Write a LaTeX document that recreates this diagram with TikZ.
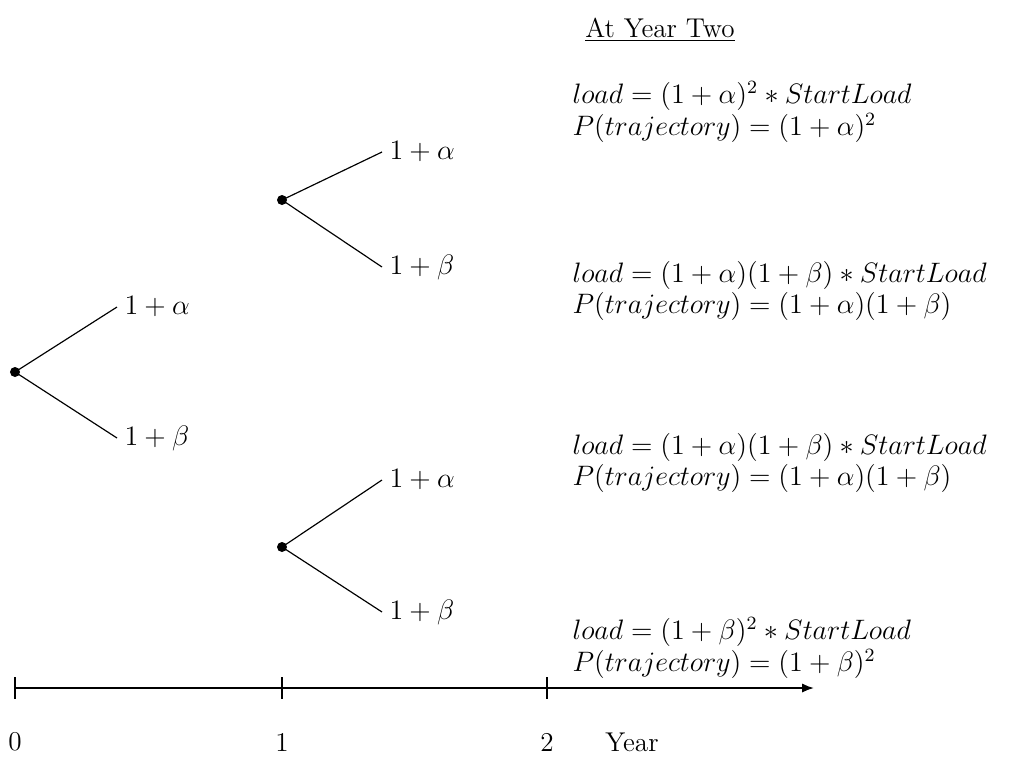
\documentclass[tikz,border=0pt]{standalone}
\usetikzlibrary{positioning,arrows.meta}

\begin{document}
\begin{tikzpicture}[
  x=0.015cm, y=-0.015cm,
  font=\fontsize{11.6}{13.4}\selectfont,
  dot/.style={circle, fill=black, inner sep=0pt, minimum size=1.5mm},
  br/.style={anchor=west, inner sep=3pt},
  res/.style={anchor=west, align=left, inner sep=3pt},
  edge/.style={line width=0.5pt},
  axis/.style={line width=0.8pt, -{Latex[length=1.8mm, width=1.4mm]}},
  tick/.style={line width=0.5pt}
]
\useasboundingbox (0,0) rectangle (1018,774);
% ----- tree -----
\node[dot] (r) at (15,372) {};
\node[br] (ra) at (117,307) {$1+\alpha$};
\node[br] (rb) at (117,438) {$1+\beta$};
\node[dot] (u) at (282,200) {};
\node[br] (ua) at (382,152) {$1+\alpha$};
\node[br] (ub) at (382,267) {$1+\beta$};
\node[dot] (d) at (282,547) {};
\node[br] (da) at (382,480) {$1+\alpha$};
\node[br] (db) at (382,612) {$1+\beta$};
\foreach \a/\b in {r/ra, r/rb, u/ua, u/ub, d/da, d/db}{\draw[edge] (\a.center) -- (\b.west);}
% ----- outcomes at year two -----
\node (title) at (660,30) {\underline{At Year Two}};
\node[res] (o1) at (565,112) {$load = (1+\alpha)^2 * StartLoad$\\$P(trajectory) = (1+\alpha)^2$};
\node[res] (o2) at (565,291) {$load = (1+\alpha)(1+\beta) * StartLoad$\\$P(trajectory) = (1+\alpha)(1+\beta)$};
\node[res] (o3) at (565,463) {$load = (1+\alpha)(1+\beta) * StartLoad$\\$P(trajectory) = (1+\alpha)(1+\beta)$};
\node[res] (o4) at (565,648) {$load = (1+\beta)^2 * StartLoad$\\$P(trajectory) = (1+\beta)^2$};
% ----- time axis -----
\coordinate (t0) at (15,688);
\coordinate (t1) at (282,688);
\coordinate (t2) at (547,688);
\coordinate (tend) at (814,688);
\draw[axis] (t0) -- (tend);
\foreach \t in {t0,t1,t2}{\draw[tick] ([yshift=1.6mm]\t) -- ([yshift=-1.6mm]\t);}
\node (l0) at (15,742) {0};
\node (l1) at (282,742) {1};
\node (l2) at (547,742) {2};
\node (ly) at (632,742) {Year};
\end{tikzpicture}
\end{document}
